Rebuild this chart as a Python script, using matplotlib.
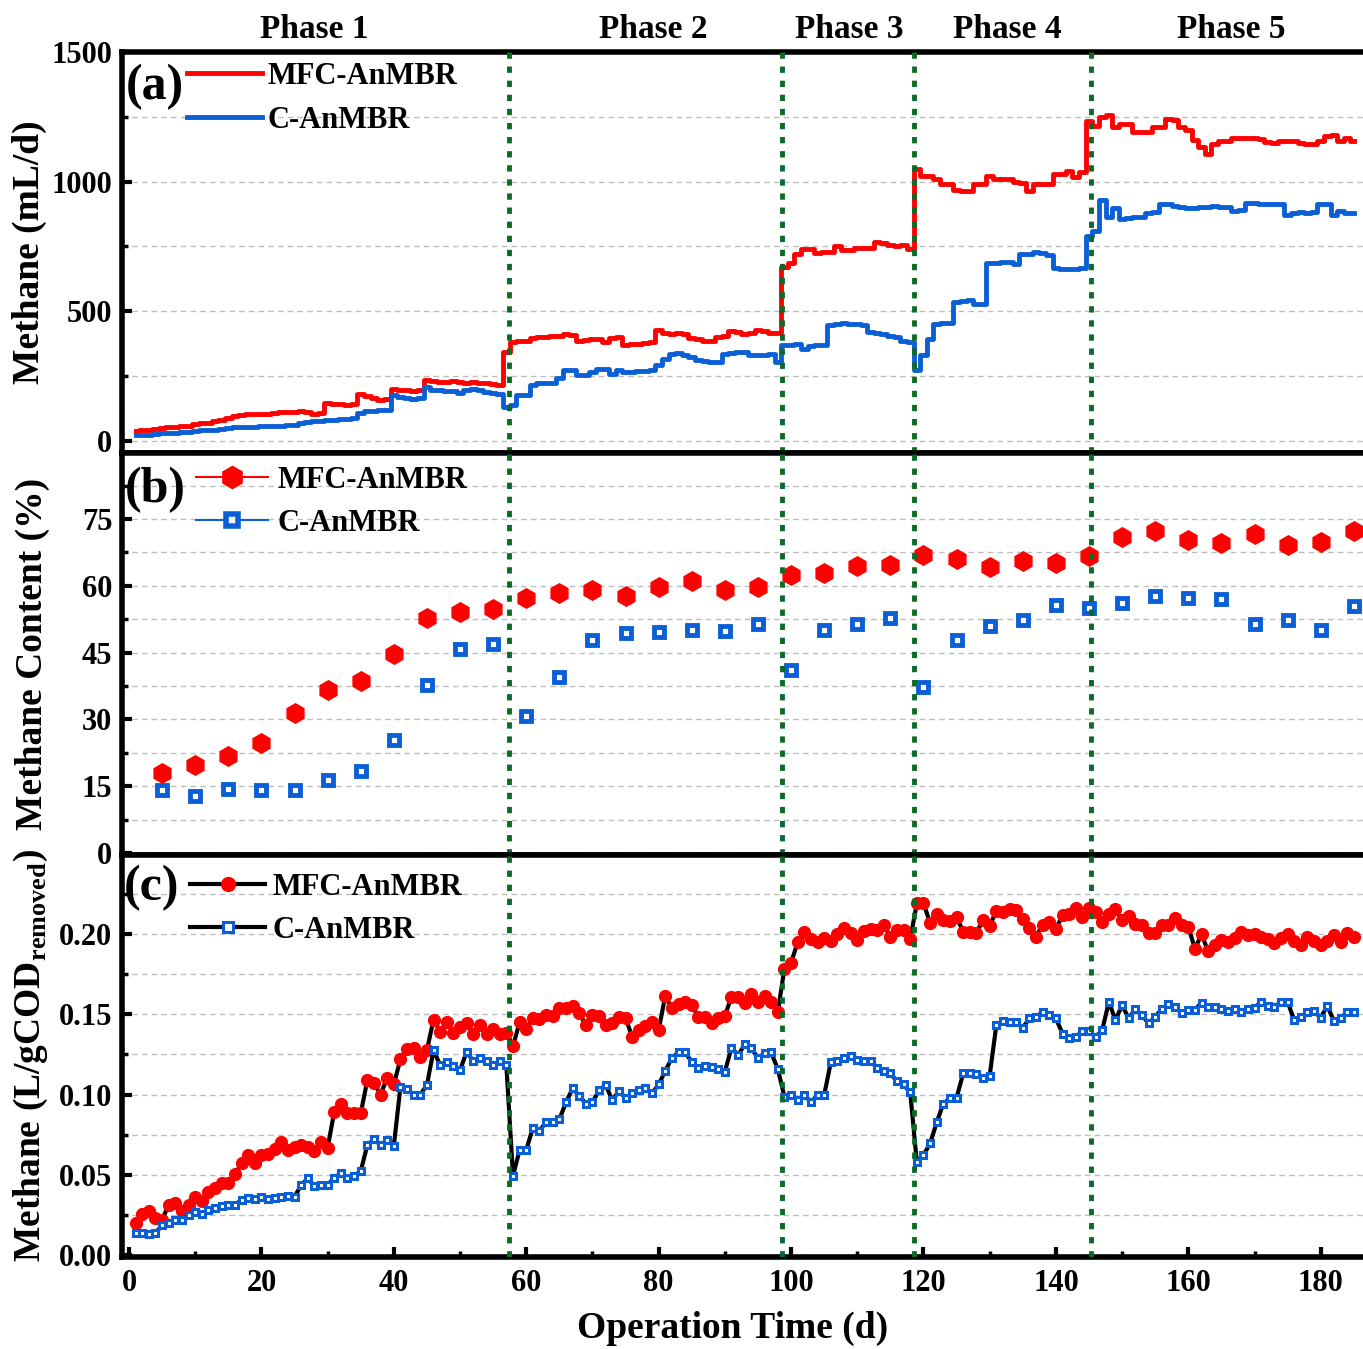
import numpy as np
import matplotlib
matplotlib.use("Agg")
import matplotlib.pyplot as plt
from matplotlib.lines import Line2D
from matplotlib.ticker import MultipleLocator
from matplotlib.transforms import blended_transform_factory

plt.rcParams['font.family'] = ['Liberation Serif', 'DejaVu Serif']
plt.rcParams['font.weight'] = 'bold'
plt.rcParams['mathtext.fontset'] = 'custom'
plt.rcParams['mathtext.rm'] = 'Liberation Serif:bold'
plt.rcParams['mathtext.bf'] = 'Liberation Serif:bold'

# ---- data ----
days = np.arange(1, 186)          # daily samples, day 1..185
days_b = np.arange(5, 190, 5)     # methane content sampled every 5 days

# (a) methane production, mL/d
prod_mfc = [40, 42, 42, 48, 52, 53, 55, 58, 58, 64, 68, 70, 76, 80, 88, 96, 100, 103, 104, 104,
            106, 110, 113, 113, 112, 114, 113, 106, 108, 147, 144, 142, 140, 143, 181, 172, 166, 160, 162, 200,
            198, 196, 194, 198, 235, 230, 228, 226, 230, 226, 224, 226, 222, 222, 220, 218, 345, 382, 384, 384,
            398, 400, 402, 404, 405, 412, 408, 384, 388, 395, 394, 382, 398, 400, 370, 376, 376, 378, 380, 428,
            416, 414, 418, 414, 396, 394, 385, 384, 400, 404, 424, 420, 414, 416, 427, 424, 416, 415, 670, 685,
            722, 741, 740, 724, 728, 730, 750, 736, 735, 745, 746, 744, 767, 762, 754, 752, 756, 742, 1049, 1020,
            1020, 1010, 992, 990, 966, 965, 965, 990, 992, 1022, 1010, 1012, 1010, 998, 996, 965, 990, 992, 990, 1030,
            1028, 1042, 1017, 1036, 1235, 1215, 1250, 1256, 1210, 1224, 1222, 1190, 1190, 1190, 1210, 1212, 1240, 1236, 1210, 1200,
            1160, 1132, 1106, 1145, 1158, 1156, 1170, 1170, 1168, 1168, 1166, 1152, 1150, 1156, 1158, 1156, 1148, 1147, 1146, 1158,
            1176, 1178, 1158, 1168, 1158]
prod_c = [22, 22, 24, 26, 30, 32, 33, 34, 36, 40, 42, 44, 44, 46, 50, 54, 55, 56, 56, 57,
          57, 58, 58, 60, 62, 68, 74, 78, 78, 80, 82, 84, 85, 90, 110, 114, 116, 118, 120, 178,
          168, 166, 164, 166, 208, 198, 196, 194, 192, 184, 198, 200, 196, 190, 186, 182, 132, 138, 177, 178,
          215, 222, 224, 224, 245, 272, 272, 256, 256, 266, 279, 276, 260, 272, 268, 268, 270, 270, 274, 292,
          318, 337, 338, 330, 324, 311, 310, 305, 304, 336, 340, 344, 342, 332, 330, 331, 336, 305, 369, 372,
          376, 356, 368, 369, 370, 446, 452, 454, 452, 450, 446, 420, 418, 414, 404, 400, 384, 380, 273, 331,
          395, 452, 454, 455, 535, 540, 542, 530, 530, 686, 688, 690, 690, 684, 720, 722, 728, 726, 716, 668,
          664, 662, 664, 668, 792, 810, 929, 862, 900, 856, 858, 862, 864, 880, 884, 912, 914, 906, 902, 900,
          900, 904, 904, 906, 904, 902, 888, 890, 916, 918, 914, 914, 912, 914, 870, 880, 882, 880, 882, 914,
          912, 870, 888, 880, 878]

# (b) methane content, %
content_mfc = [17.9, 19.8, 21.8, 24.6, 31.5, 36.6, 38.6, 44.7, 52.7, 54.1, 54.7, 57.2, 58.3, 59.1, 57.8, 59.8,
               61.1, 59.0, 59.8, 62.3, 62.9, 64.4, 64.7, 66.9, 66.0, 64.1, 65.6, 65.1, 66.7, 71.0, 72.3, 70.2,
               69.7, 71.6, 69.2, 69.8, 72.2]
content_c = [14.1, 12.9, 14.3, 14.1, 14.1, 16.4, 18.5, 25.4, 37.7, 45.9, 46.9, 30.8, 39.5, 47.8, 49.4, 49.6,
             50.0, 49.8, 51.4, 41.1, 50.1, 51.4, 52.7, 37.2, 47.8, 51.0, 52.3, 55.6, 54.9, 56.1, 57.7, 57.3,
             57.0, 51.4, 52.2, 50.1, 55.5]

# (c) methane yield, L/gCOD removed
yield_mfc = [.0197, .0253, .0274, .0228, .0218, .0315, .0326, .0274, .0311, .0363, .0336, .0390, .0419, .0446, .0452,
             .0502, .0571, .0623, .0571, .0623, .0627, .0660, .0702, .0654, .0675, .0685, .0675, .0648, .0702, .0668,
             .0892, .0944, .0882, .0888, .0882, .1090, .1069, .1000, .1104, .1063, .1220, .1283, .1287, .1235, .1276,
             .1467, .1391, .1453, .1384, .1422, .1443, .1380, .1432, .1380, .1411, .1380, .1385, .1303, .1449, .1410,
             .1474, .1469, .1494, .1488, .1540, .1536, .1553, .1505, .1436, .1494, .1490, .1432, .1443, .1484, .1478,
             .1359, .1401, .1428, .1453, .1401, .1615, .1536, .1561, .1577, .1557, .1484, .1484, .1443, .1474, .1490,
             .1609, .1609, .1567, .1629, .1577, .1615, .1577, .1515, .1785, .1822, .1947, .2013, .1968, .1951, .1976,
             .1955, .2003, .2038, .2009, .1961, .2017, .2034, .2024, .2055, .1982, .2024, .2024, .1968, .2190, .2190,
             .2071, .2127, .2086, .2080, .2107, .2013, .2013, .2009, .2086, .2051, .2142, .2134, .2154, .2148, .2092,
             .2038, .1982, .2059, .2076, .2030, .2117, .2127, .2159, .2107, .2159, .2134, .2076, .2127, .2154, .2086,
             .2113, .2065, .2059, .2009, .2009, .2059, .2055, .2100, .2059, .2044, .1909, .1997, .1893, .1934, .1961,
             .1947, .1972, .2013, .1993, .1997, .1982, .1968, .1941, .1972, .2003, .1955, .1934, .1982, .1955, .1934,
             .1955, .1993, .1951, .2009, .1982]
yield_c = [.0139, .0135, .0129, .0135, .0187, .0197, .0218, .0218, .0249, .0266, .0253, .0280, .0295, .0307, .0315,
           .0315, .0342, .0353, .0349, .0363, .0349, .0357, .0363, .0369, .0363, .0436, .0477, .0430, .0436, .0436,
           .0482, .0509, .0477, .0494, .0523, .0685, .0720, .0685, .0716, .0681, .1048, .1034, .1000, .1000, .1059,
           .1276, .1183, .1200, .1177, .1152, .1266, .1208, .1229, .1208, .1183, .1208, .1181, .0494, .0654, .0654,
           .0793, .0772, .0830, .0830, .0845, .0951, .1038, .0992, .0944, .0951, .1027, .1059, .0965, .1021, .0980,
           .1007, .1027, .1042, .1007, .1063, .1146, .1229, .1262, .1262, .1204, .1166, .1179, .1173, .1162, .1142,
           .1291, .1245, .1312, .1287, .1229, .1256, .1262, .1158, .0986, .1000, .0965, .1000, .0951, .0996, .0996,
           .1200, .1208, .1225, .1241, .1214, .1208, .1208, .1166, .1146, .1131, .1083, .1063, .1013, .0577, .0623,
           .0695, .0826, .0944, .0976, .0980, .1131, .1137, .1125, .1104, .1117, .1432, .1457, .1449, .1449, .1416,
           .1474, .1484, .1515, .1494, .1474, .1380, .1353, .1359, .1395, .1395, .1359, .1401, .1577, .1463, .1557,
           .1474, .1532, .1494, .1443, .1484, .1532, .1561, .1546, .1505, .1526, .1526, .1573, .1546, .1546, .1532,
           .1519, .1532, .1511, .1532, .1540, .1577, .1553, .1546, .1577, .1577, .1463, .1484, .1511, .1519, .1478,
           .1553, .1457, .1478, .1511, .1511]

phase_bounds = [57.4, 98.7, 118.5, 145.3]
phase_names = ['Phase 1', 'Phase 2', 'Phase 3', 'Phase 4', 'Phase 5']
phase_centers = [28, 79.2, 108.8, 132.6, 166.5]

RED = '#ff0000'
BLUE = '#0a5fd6'
GREEN = '#0b6a26'

fig = plt.figure(figsize=(13.63, 13.49), dpi=100)
left, width = 0.0895, 0.9125
ax_a = fig.add_axes([left, 0.6642, width, 0.2973])
ax_b = fig.add_axes([left, 0.3662, width, 0.2980])
ax_c = fig.add_axes([left, 0.0682, width, 0.2980])

for ax in (ax_a, ax_b, ax_c):
    ax.set_xlim(-1.06, 186.8)
    for s in ax.spines.values():
        s.set_linewidth(4)
    ax.grid(axis='y', which='both', color='#bdbdbd', lw=1, ls=(0, (4, 3)))
    ax.set_axisbelow(True)
    ax.tick_params(axis='y', which='major', direction='in', length=7, width=3, labelsize=22, pad=7)
    ax.tick_params(axis='y', which='minor', direction='in', length=4, width=2.5)
    for xb in phase_bounds:
        ax.axvline(xb, color=GREEN, lw=3.5, ls=(0, (1.3, 1.6)), zorder=5)

for ax in (ax_a, ax_b):
    ax.tick_params(axis='x', which='both', length=0, labelbottom=False)

# (a)
ax_a.plot(days, prod_mfc, color=RED, lw=3.5, drawstyle='steps-mid', label='MFC-AnMBR')
ax_a.plot(days, prod_c, color=BLUE, lw=3.5, drawstyle='steps-mid', label='C-AnMBR')
ax_a.set_ylim(-46, 1500)
ax_a.yaxis.set_major_locator(MultipleLocator(500))
ax_a.yaxis.set_minor_locator(MultipleLocator(250))
ax_a.set_ylabel('Methane (mL/d)', fontsize=27, fontweight='bold')
ax_a.yaxis.set_label_coords(-0.060, 0.5)
ax_a.legend(loc='upper left', bbox_to_anchor=(0.052, 0.975), frameon=False, fontsize=22,
            handlelength=2.45, handletextpad=0.2, labelspacing=0.48, borderpad=0, borderaxespad=0)
ax_a.text(0.0266, 0.913, '(a)', transform=ax_a.transAxes, fontsize=36, fontweight='bold',
          ha='center', va='center')
trans = blended_transform_factory(ax_a.transData, ax_a.transAxes)
for name, xc in zip(phase_names, phase_centers):
    ax_a.text(xc, 1.055, name, transform=trans, fontsize=24, fontweight='bold', ha='center', va='center')

# (b)
ax_b.plot(days_b, content_mfc, ls='none', marker='h', ms=14, color=RED)
ax_b.plot(days_b, content_c, ls='none', marker='s', ms=7.5, mew=3.5, mfc='white', mec=BLUE)
ax_b.set_ylim(-0.45, 89.8)
ax_b.yaxis.set_minor_locator(MultipleLocator(7.5))
ax_b.set_yticks([0, 15, 30, 45, 60, 75])
ax_b.set_ylabel('Methane Content (%)', fontsize=27, fontweight='bold')
ax_b.yaxis.set_label_coords(-0.058, 0.5)
hb = [Line2D([], [], color=RED, lw=1.5, marker='h', ms=16),
      Line2D([], [], color=BLUE, lw=1.5, marker='s', ms=9, mew=4, mfc='white', mec=BLUE)]
ax_b.legend(hb, ['MFC-AnMBR', 'C-AnMBR'], loc='upper left', bbox_to_anchor=(0.0596, 0.968), frameon=False,
            fontsize=22, handlelength=2.35, handletextpad=0.3, labelspacing=0.45, borderpad=0, borderaxespad=0)
ax_b.text(0.0266, 0.908, '(b)', transform=ax_b.transAxes, fontsize=36, fontweight='bold',
          ha='center', va='center')

# (c)
ax_c.plot(days, yield_mfc, color='black', lw=3, marker='o', ms=8.5, mfc=RED, mec=RED, label='MFC-AnMBR')
ax_c.plot(days, yield_c, color='black', lw=3, marker='s', ms=5, mew=2.2, mfc='white', mec=BLUE,
          label='C-AnMBR')
ax_c.set_ylim(-0.0012, 0.2492)
ax_c.yaxis.set_major_locator(MultipleLocator(0.05))
ax_c.yaxis.set_minor_locator(MultipleLocator(0.025))
ax_c.yaxis.set_major_formatter(matplotlib.ticker.FormatStrFormatter('%.2f'))
ax_c.xaxis.set_major_locator(MultipleLocator(20))
ax_c.xaxis.set_minor_locator(MultipleLocator(10))
ax_c.tick_params(axis='x', which='major', direction='in', length=7, width=3, labelsize=22, pad=9)
ax_c.tick_params(axis='x', which='minor', direction='in', length=4, width=2.5)
ax_c.set_ylabel(r'Methane (L/gCOD$_{\mathbf{removed}}$)', fontsize=27, fontweight='bold')
ax_c.yaxis.set_label_coords(-0.058, 0.5)
ax_c.set_xlabel('Operation Time (d)', fontsize=27, fontweight='bold')
ax_c.xaxis.set_label_coords(0.4907, -0.134)
lc = ax_c.legend(loc='upper left', bbox_to_anchor=(0.0548, 0.955), frameon=False, fontsize=22,
                 handlelength=2.45, handletextpad=0.25, labelspacing=0.45, borderpad=0, borderaxespad=0)
lc.legend_handles[0].set_markersize(10)
lc.legend_handles[1].set_markersize(7)
ax_c.text(0.024, 0.918, '(c)', transform=ax_c.transAxes, fontsize=36, fontweight='bold',
          ha='center', va='center')

for ax in (ax_a, ax_b, ax_c):
    for lab in ax.get_yticklabels() + ax.get_xticklabels():
        lab.set_fontweight('bold')

fig.savefig('out.png', dpi=100)
